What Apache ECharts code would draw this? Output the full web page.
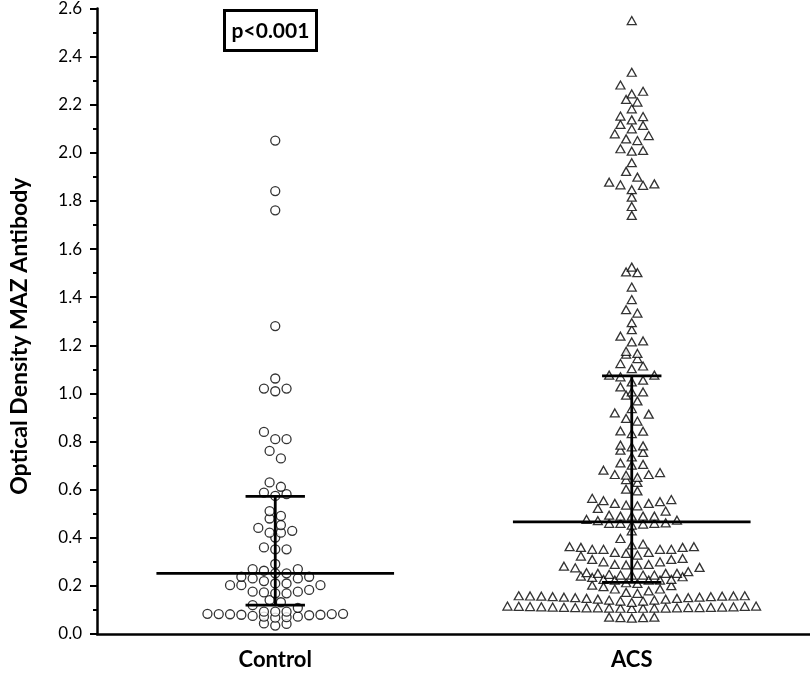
<!DOCTYPE html>
<html>
<head>
<meta charset="utf-8">
<script src="https://cdn.jsdelivr.net/npm/echarts@6/dist/echarts.min.js"></script>
<style>
  html, body { margin: 0; padding: 0; background: #fff; }
  #main { width: 810px; height: 673px; }
</style>
</head>
<body>
<div id="main"></div>
<script>
// groups on the x axis
var groups = ['Control', 'ACS'];

// optical density values
var controlValues = [
  2.051, 1.841, 1.761, 1.280,
  1.062, 1.020, 1.009, 1.020,
  0.840, 0.810, 0.810, 0.761, 0.730,
  0.630, 0.612, 0.588, 0.581, 0.574,
  0.511, 0.491, 0.480, 0.453, 0.441, 0.429, 0.421, 0.421, 0.401,
  0.360, 0.352, 0.352,
  0.291, 0.270, 0.270, 0.263, 0.252, 0.252,
  0.238, 0.238, 0.231, 0.231, 0.220,
  0.210, 0.210, 0.203, 0.203, 0.203,
  0.183, 0.176, 0.176, 0.173, 0.169, 0.169,
  0.141, 0.132, 0.120, 0.109,
  0.093, 0.093, 0.093,
  0.084, 0.084, 0.083, 0.082, 0.080, 0.078, 0.075, 0.072, 0.070, 0.068, 0.072, 0.080, 0.083,
  0.044, 0.042, 0.035
];

var acsValues = [
  2.550, 2.335, 2.282, 2.256, 2.245, 2.222, 2.211, 2.183, 2.153, 2.151, 2.137,
  2.118, 2.114, 2.100, 2.079, 2.072, 2.058, 2.051, 2.017, 2.010, 2.007, 1.959,
  1.923, 1.899, 1.878, 1.871, 1.867, 1.865, 1.847, 1.816, 1.777, 1.740,
  1.525, 1.505, 1.502, 1.442, 1.390, 1.348, 1.334, 1.294, 1.265, 1.238, 1.218,
  1.214, 1.175, 1.166, 1.163, 1.145, 1.124, 1.114, 1.103, 1.076, 1.076, 1.069,
  1.055, 1.048, 1.027, 1.006, 1.006, 0.993, 0.969, 0.937, 0.919, 0.914, 0.896,
  0.885, 0.844, 0.843, 0.833, 0.785, 0.782, 0.778, 0.764, 0.755, 0.736,
  0.711, 0.705, 0.702, 0.681, 0.671, 0.663, 0.663, 0.660, 0.651, 0.642, 0.630,
  0.602, 0.595, 0.564, 0.559, 0.554, 0.550, 0.543, 0.543, 0.536, 0.533, 0.522, 0.511,
  0.494, 0.490, 0.490, 0.490, 0.490, 0.476, 0.473, 0.471, 0.462, 0.460, 0.460,
  0.460, 0.457, 0.453,
  0.429, 0.397, 0.374, 0.370, 0.363, 0.363, 0.360, 0.360, 0.352, 0.352, 0.352,
  0.352, 0.339, 0.339, 0.335, 0.328, 0.324,
  0.314, 0.310, 0.310, 0.300, 0.300, 0.289, 0.289, 0.287, 0.287, 0.282, 0.277, 0.275,
  0.259, 0.255, 0.252, 0.252, 0.252, 0.248, 0.245, 0.245, 0.245, 0.245, 0.241,
  0.238, 0.235, 0.227, 0.227, 0.224, 0.224, 0.224, 0.213, 0.210,
  0.203, 0.201, 0.197, 0.187, 0.187, 0.179, 0.173, 0.169,
  0.159, 0.158, 0.157, 0.155, 0.153, 0.151, 0.148, 0.145, 0.141, 0.137, 0.131,
  0.137, 0.141, 0.145, 0.148, 0.151, 0.153, 0.155, 0.157, 0.158, 0.159,
  0.116, 0.116, 0.115, 0.115, 0.114, 0.113, 0.113, 0.112, 0.112, 0.111, 0.111,
  0.110, 0.110, 0.110, 0.109, 0.109, 0.109, 0.108, 0.108, 0.108, 0.107, 0.107, 0.106,
  0.070, 0.068, 0.066, 0.068, 0.070
];

// median and interquartile range shown on the figure
var medians = [0.252, 0.466];
var q1s = [0.120, 0.215];
var q3s = [0.572, 1.073];

var pText = 'p<0.001';

// Prism-like scatter layout: bin by value, spread each bin side by side
var BIN = 0.04, BIN_OFFSET = 0.005, STEP = 0.0317;
function swarm(values, center) {
  var bins = {};
  values.forEach(function (v) {
    var k = Math.floor((v - BIN_OFFSET) / BIN);
    (bins[k] = bins[k] || []).push(v);
  });
  var pts = [];
  Object.keys(bins).forEach(function (k) {
    var vs = bins[k].slice().sort(function (a, b) { return a - b; });
    var n = vs.length, slots = [];
    for (var i = 0; i < n; i++) slots.push((i - (n - 1) / 2) * STEP);
    slots.sort(function (a, b) { return Math.abs(a) - Math.abs(b) || b - a; });
    vs.forEach(function (v, i) { pts.push([center + slots[i], v]); });
  });
  return pts;
}

var statData = groups.map(function (g, i) {
  return [i + 1, medians[i], q1s[i], q3s[i]];
});

var chart = echarts.init(document.getElementById('main'));
var font = 'Lato, "Open Sans", sans-serif';
var markStyle = { color: '#fff', borderColor: '#000', borderWidth: 1.3 };

chart.setOption({
  animation: false,
  backgroundColor: '#fff',
  grid: { left: 90, right: 0, top: 8, bottom: 39 },
  graphic: [{
    type: 'group', left: 223, top: 9,
    children: [
      { type: 'rect', shape: { x: 1.5, y: 1.5, width: 92, height: 40 },
        style: { fill: '#fff', stroke: '#000', lineWidth: 3 } },
      { type: 'text', x: 47.5, y: 22,
        style: { text: pText, font: 'bold 21px ' + font, fill: '#000',
                 textAlign: 'center', textVerticalAlign: 'middle',
                 align: 'center', verticalAlign: 'middle' } }
    ]
  }],
  xAxis: [{
    type: 'category',
    data: groups,
    boundaryGap: true,
    axisLine: { lineStyle: { color: '#000', width: 2.5 } },
    axisTick: { alignWithLabel: true, length: 6, lineStyle: { color: '#000', width: 2 } },
    axisLabel: { color: '#000', fontSize: 22, fontWeight: 'bold', fontFamily: font, margin: 15 },
    splitLine: { show: false }
  }, {
    type: 'value', min: 0.5, max: 2.5, show: false
  }],
  yAxis: {
    type: 'value',
    min: 0, max: 2.6, interval: 0.2,
    name: 'Optical Density MAZ Antibody',
    nameLocation: 'middle',
    nameGap: 66,
    nameTextStyle: { color: '#000', fontSize: 23, fontWeight: 'bold', fontFamily: font,
                     padding: [0, 30, 0, 0] },
    axisLine: { show: true, lineStyle: { color: '#000', width: 2.5 } },
    axisTick: { show: true, length: 7, lineStyle: { color: '#000', width: 2 } },
    minorTick: { show: true, splitNumber: 2, length: 4, lineStyle: { color: '#000', width: 2 } },
    axisLabel: { color: '#000', fontSize: 17, fontFamily: font, margin: 15,
                 formatter: function (v) { return v.toFixed(1); } },
    splitLine: { show: false }
  },
  series: [{
    name: 'Control',
    type: 'scatter',
    xAxisIndex: 1,
    symbol: 'circle',
    symbolSize: 9,
    itemStyle: markStyle,
    data: swarm(controlValues, 1),
    z: 2
  }, {
    name: 'ACS',
    type: 'scatter',
    xAxisIndex: 1,
    symbol: 'triangle',
    symbolSize: [9, 8],
    itemStyle: markStyle,
    data: swarm(acsValues, 2),
    z: 2
  }, {
    type: 'custom',
    xAxisIndex: 1,
    z: 5,
    data: statData,
    renderItem: function (params, api) {
      var x = api.value(0), med = api.value(1), lo = api.value(2), hi = api.value(3);
      var st = { stroke: '#000', lineWidth: 2.8 };
      function seg(x1, y1, x2, y2) {
        var a = api.coord([x1, y1]), b = api.coord([x2, y2]);
        return { type: 'line', shape: { x1: a[0], y1: a[1], x2: b[0], y2: b[1] }, style: st };
      }
      return {
        type: 'group',
        children: [
          seg(x - 0.3333, med, x + 0.3333, med),
          seg(x, lo, x, hi),
          seg(x - 0.0833, lo, x + 0.0833, lo),
          seg(x - 0.0833, hi, x + 0.0833, hi)
        ]
      };
    }
  }]
});
</script>
</body>
</html>
